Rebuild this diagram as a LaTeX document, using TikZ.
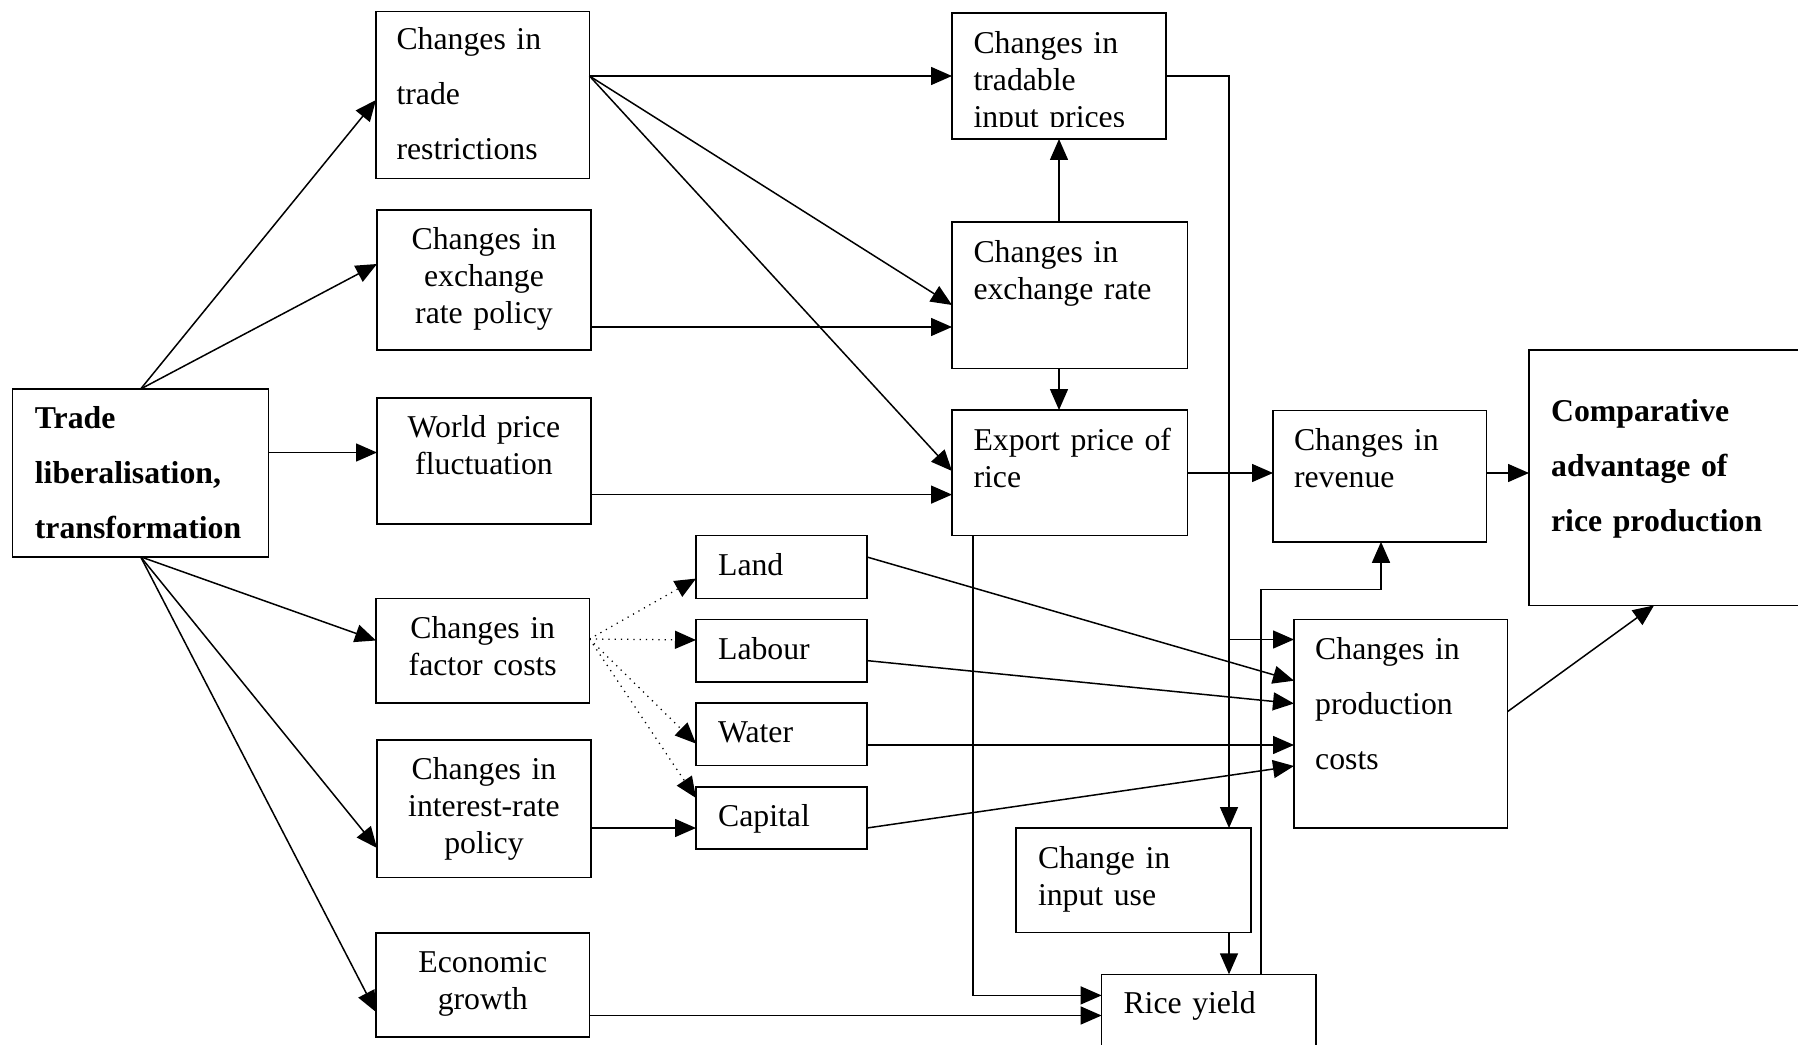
\documentclass[tikz,border=0pt]{standalone}
\usepackage{fontspec}
\setmainfont{Liberation Serif}
\usetikzlibrary{arrows.meta}
\newcommand\mkbox[5]{\node[bx, minimum width={(#4-#2)*0.4pt}, minimum height={(#5-#3)*0.4pt}] (#1) at ({(#2+#4)/2},{(#3+#5)/2}) {};}
\begin{document}
\begin{tikzpicture}[x=0.4pt,y=-0.4pt,
  bx/.style={draw, line width=0.6pt, inner sep=0pt, outer sep=0pt},
  arr/.style={line width=0.6pt, -{Triangle[length=8.4pt,width=7.2pt]}},
  dotarr/.style={line width=0.5pt, dotted, -{Triangle[length=8.4pt,width=7.2pt]}},
  txtL/.style={inner sep=0pt, anchor=base west, align=left, text width=110pt, font=\fontsize{12.7}{14.8}\selectfont},
  txtC/.style={inner sep=0pt, anchor=base, align=center, text width=80pt, font=\fontsize{12.7}{14.8}\selectfont},
  tall/.style={font=\fontsize{12.7}{22}\selectfont},
  talb/.style={font=\fontsize{12.7}{22}\selectfont\bfseries}
]
\fill[white] (0,0) rectangle (1798,1045);
\useasboundingbox (0,0) rectangle (1798,1045);
\clip (0,0) rectangle (1798,1045);

% boxes
\mkbox{tl}{12.6}{389}{268.7}{556.8}
\mkbox{tr}{376}{11.4}{589.5}{178.6}
\mkbox{erp}{377}{210}{591}{350}
\mkbox{wp}{377}{398}{591}{524}
\mkbox{fc}{376}{598.7}{589.5}{703}
\mkbox{ir}{377}{740}{591}{877.5}
\mkbox{eg}{376}{932.8}{589.5}{1037}
\mkbox{land}{696}{535.7}{867}{598.7}
\mkbox{lab}{696}{619.4}{867}{682}
\mkbox{wat}{696}{703}{867}{765.7}
\mkbox{cap}{696}{786.8}{867}{848.8}
\mkbox{tip}{952}{13}{1166}{139}
\mkbox{er}{952}{222}{1187.5}{368.6}
\mkbox{ep}{952}{410}{1187.5}{535.7}
\mkbox{rev}{1273}{410.7}{1486.5}{541.8}
\mkbox{ca}{1529}{350}{1812}{605.4}
\mkbox{pc}{1294}{619.4}{1507.7}{828}
\mkbox{iu}{1016}{828}{1251}{932.5}
\mkbox{ry}{1101.6}{974.3}{1316}{1062}

% texts
\node[txtL, talb] (tlt) at (34.4,428.6) {Trade\\liberalisation,\\transformation};
\node[txtL, tall] (trt) at (396,50) {Changes in\\trade\\restrictions};
\node[txtC] (erpt) at (484,249.5) {Changes in\\exchange\\rate policy};
\node[txtC] (wpt) at (484,437.5) {World price\\fluctuation};
\node[txtC] (fct) at (482.75,638.8) {Changes in\\factor costs};
\node[txtC] (irt) at (484,779.5) {Changes in\\interest-rate\\policy};
\node[txtC] (egt) at (482.75,972) {Economic\\growth};
\node[txtL] (landt) at (717.6,575) {Land};
\node[txtL] (labt) at (717.6,659) {Labour};
\node[txtL] (watt) at (717.6,742.6) {Water};
\node[txtL] (capt) at (717.6,826) {Capital};
\begin{scope}
\clip (952,13) rectangle (1166,126.5);
\node[txtL] (tipt) at (973,53.6) {Changes in\\tradable\\input prices};
\end{scope}
\node[txtL] (ert) at (973,262.5) {Changes in\\exchange rate};
\node[txtL] (ept) at (973,450) {Export price of\\rice};
\node[txtL] (revt) at (1293.5,450) {Changes in\\revenue};
\node[txtL, talb] (cat) at (1550.6,421) {Comparative\\advantage of\\rice production};
\node[txtL, tall] (pct) at (1314.7,659) {Changes in\\production\\costs};
\node[txtL] (iut) at (1037.5,868) {Change in\\input use};
\node[txtL] (ryt) at (1123,1013.8) {Rice yield};

% connectors from trade liberalisation
\draw[arr] (tl.north) -- (tr.west |- 0,100);
\draw[arr] (tl.north) -- (erp.west |- 0,264);
\draw[arr] (tl.east |- 0,452.5) -- (wp.west |- 0,452.5);
\draw[arr] (tl.south) -- (fc.west |- 0,640.5);
\draw[arr] (tl.south) -- (ir.west |- 0,848);
\draw[arr] (tl.south) -- (eg.west |- 0,1012);

% trade restrictions
\draw[arr] (tr.east |- 0,76) -- (tip.west |- 0,76);
\draw[arr] (tr.east |- 0,76) -- (er.west |- 0,305);
\draw[arr] (tr.east |- 0,76) -- (ep.west |- 0,471);

\draw[arr] (erp.east |- 0,327) -- (er.west |- 0,327);
\draw[arr] (wp.east |- 0,494.6) -- (ep.west |- 0,494.6);
\draw[arr] (er.north -| tip.south) -- (tip.south);
\draw[arr] (er.south -| tip.south) -- (ep.north -| tip.south);
\draw[arr] (ep.east |- 0,473) -- (rev.west |- 0,473);
\draw[arr] (rev.east |- 0,473) -- (ca.west |- 0,473);

% tradable input prices down to input use
\draw[arr] (tip.east |- 0,76) -| (iu.north -| 1229,0);
\coordinate (br) at (1229,639.5);
\draw[arr] (br) -- (pc.west |- br);

% factors
\draw[dotarr] (fc.east |- 0,639) -- (land.west |- 0,578.6);
\draw[dotarr] (fc.east |- 0,639) -- (lab.west |- 0,640);
\draw[dotarr] (fc.east |- 0,639) -- (wat.west |- 0,743.6);
\draw[dotarr] (fc.east |- 0,639) -- (cap.west |- 0,798);
\draw[arr] (ir.east |- 0,828) -- (cap.west |- 0,828);

\draw[arr] (land.east |- 0,557) -- (pc.west |- 0,680.7);
\draw[arr] (lab.east |- 0,660.6) -- (pc.west |- 0,703.5);
\draw[arr] (wat.east |- 0,745) -- (pc.west |- 0,745);
\draw[arr] (cap.east |- 0,828) -- (pc.west |- 0,766);

% rice yield
\draw[arr] (eg.east |- 0,1015.5) -- (ry.west |- 0,1015.5);
\draw[arr] (ep.south -| 973,0) |- (ry.west |- 0,995.4);
\draw[arr] (iu.south -| 1229,0) -- (ry.north -| 1229,0);
\draw[arr] (ry.north -| 1261,0) -- (1261,589.6) -| (rev.south -| 1381,0);

% production costs to comparative advantage
\draw[arr] (pc.east |- 0,711.5) -- (ca.south -| 1654,0);
\end{tikzpicture}
\end{document}
